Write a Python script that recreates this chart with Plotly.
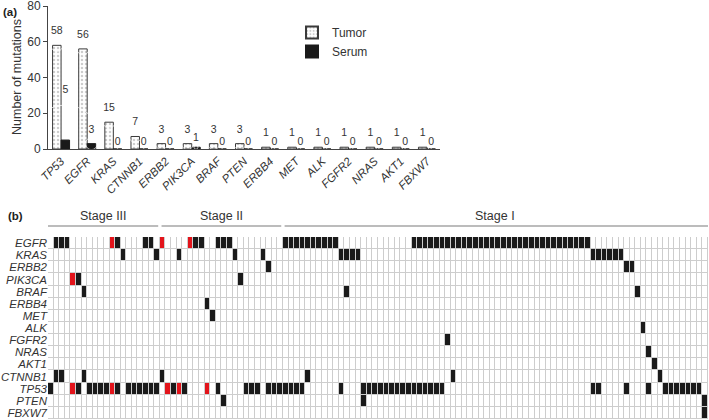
import plotly.graph_objects as go

# ---------------- Panel (a) data ----------------
bar_genes = ["TP53", "EGFR", "KRAS", "CTNNB1", "ERBB2", "PIK3CA", "BRAF", "PTEN",
             "ERBB4", "MET", "ALK", "FGFR2", "NRAS", "AKT1", "FBXW7"]
tumor_counts = [58, 56, 15, 7, 3, 3, 3, 3, 1, 1, 1, 1, 1, 1, 1]
serum_counts = [5, 3, 0, 0, 0, 1, 0, 0, 0, 0, 0, 0, 0, 0, 0]
y_ticks = [0, 20, 40, 60, 80]

# ---------------- Panel (b) data ----------------
heat_genes = ["EGFR", "KRAS", "ERBB2", "PIK3CA", "BRAF", "ERBB4", "MET", "ALK",
              "FGFR2", "NRAS", "AKT1", "CTNNB1", "TP53", "PTEN", "FBXW7"]
n_samples = 118
stage_names = ["Stage III", "Stage II", "Stage I"]
stage_sizes = [20, 22, 76]

# sample indices with tumour mutation, per gene
tumor_mut = {
    "EGFR": [1, 2, 3, 11, 12, 17, 18, 20, 25, 26, 27, 30, 31, 32,
             42, 43, 44, 45, 46, 47, 48, 49, 50, 51,
             65, 66, 67, 68, 69, 70, 71, 72, 73, 74, 75, 76, 77, 78, 79, 80,
             81, 82, 83, 84, 85, 86, 87, 88, 89, 90, 91, 92, 93, 94, 95, 96],
    "KRAS": [13, 19, 23, 33, 38, 52, 53, 54, 55, 97, 98, 99, 100, 101, 102],
    "ERBB2": [39, 103, 104],
    "PIK3CA": [4, 5, 34],
    "BRAF": [6, 53, 105],
    "ERBB4": [28],
    "MET": [29],
    "ALK": [106],
    "FGFR2": [71],
    "NRAS": [107],
    "AKT1": [108],
    "CTNNB1": [1, 2, 6, 20, 46, 72, 109],
    "TP53": [0, 4, 5, 7, 8, 9, 10, 11, 12, 14, 15, 16, 17, 18, 19, 21, 22, 23, 24,
             28, 30, 35, 36, 37, 39, 40, 41, 42, 43, 44, 45, 52,
             56, 57, 58, 59, 60, 61, 62, 63, 64, 65, 66, 67, 68, 69, 70,
             97, 98, 103, 107, 110, 111, 112, 113, 114, 115, 116],
    "PTEN": [31, 56, 117],
    "FBXW7": [117],
}
# samples where the mutation was also detected in serum (red)
serum_mut = {
    "EGFR": [11, 20, 25],
    "TP53": [4, 11, 21, 23, 28],
    "PIK3CA": [4],
}

# build matrix: 0 = none, 1 = tumour only, 2 = tumour + serum
z = []
for g in heat_genes:
    row = [0] * n_samples
    for s in tumor_mut.get(g, []):
        row[s] = 1
    for s in serum_mut.get(g, []):
        row[s] = 2
    z.append(row)

FONT = "Liberation Sans, Arial, sans-serif"
TXT = "#333333"
W, H = 709, 420

def px_x(v):
    return v / W

def px_y(v):
    return 1 - v / H

fig = go.Figure()

fig.add_trace(go.Bar(
    x=bar_genes, y=tumor_counts, name="Tumor", offsetgroup="tumor", alignmentgroup="g",
    marker=dict(color="white", line=dict(color="#3a3a3a", width=1),
                pattern=dict(shape=".", fgcolor="#9a9a9a", bgcolor="white",
                             size=4, solidity=0.3)),
    xaxis="x", yaxis="y", hoverinfo="skip"))
fig.add_trace(go.Bar(
    x=bar_genes, y=serum_counts, name="Serum", offsetgroup="serum", alignmentgroup="g",
    marker=dict(color="#1a1a1a", line=dict(color="#1a1a1a", width=1)),
    xaxis="x", yaxis="y", hoverinfo="skip"))

# value labels: text points at the bar tops, grouped like the bars
tumor_label_gap = [12] * len(bar_genes)
serum_label_gap = [70 if g == "TP53" else (12 if v > 1 else (4 if v == 1 else 1))
                   for g, v in zip(bar_genes, serum_counts)]
fig.add_trace(go.Scatter(
    x=bar_genes, y=tumor_counts, mode="markers+text", text=[str(v) for v in tumor_counts],
    textposition="top center", offsetgroup="tumor", alignmentgroup="g",
    marker=dict(size=tumor_label_gap, color="rgba(0,0,0,0)"),
    textfont=dict(size=10.5, color=TXT, family=FONT), cliponaxis=False,
    showlegend=False, hoverinfo="skip", xaxis="x", yaxis="y"))
fig.add_trace(go.Scatter(
    x=bar_genes, y=serum_counts, mode="markers+text", text=[str(v) for v in serum_counts],
    textposition="top center", offsetgroup="serum", alignmentgroup="g",
    marker=dict(size=serum_label_gap, color="rgba(0,0,0,0)"),
    textfont=dict(size=10.5, color=TXT, family=FONT), cliponaxis=False,
    showlegend=False, hoverinfo="skip", xaxis="x", yaxis="y"))

fig.add_trace(go.Heatmap(
    z=z, x=list(range(n_samples)), y=heat_genes,
    xaxis="x2", yaxis="y2", zmin=0, zmax=2,
    colorscale=[[0, "white"], [0.25, "white"], [0.25, "#1a1a1a"], [0.75, "#1a1a1a"],
                [0.75, "#e3141b"], [1, "#e3141b"]],
    showscale=False, xgap=1, ygap=1, hoverinfo="skip", showlegend=False))

annotations = []
shapes = [dict(type="rect", xref="x2 domain", yref="y2 domain", x0=0, x1=1, y0=0, y1=1,
               fillcolor="#cdcdcd", line=dict(width=0), layer="below")]
start = 0
for i, (nm, sz) in enumerate(zip(stage_names, stage_sizes)):
    a = start - 0.5 + (0 if i == 0 else 0.3)
    b = start + sz - 0.5 - (0 if i == len(stage_sizes) - 1 else 0.3)
    shapes.append(dict(type="line", xref="x2", yref="paper", x0=a, x1=b,
                       y0=px_y(226), y1=px_y(226), line=dict(color="#7a7a7a", width=1.2)))
    annotations.append(dict(x=start + (sz - 1) / 2, xref="x2", y=px_y(216), yref="paper",
                            text=nm, showarrow=False, font=dict(size=12.5, color=TXT, family=FONT),
                            xanchor="center", yanchor="middle"))
    start += sz

annotations += [
    dict(x=px_x(1), y=px_y(12), xref="paper", yref="paper", text="<b>(a)</b>",
         showarrow=False, xanchor="left", yanchor="middle", font=dict(size=11.5, color="#222", family=FONT)),
    dict(x=px_x(6), y=px_y(216), xref="paper", yref="paper", text="<b>(b)</b>",
         showarrow=False, xanchor="left", yanchor="middle", font=dict(size=11.5, color="#222", family=FONT)),
    dict(x=px_x(17), y=px_y(77), xref="paper", yref="paper", text="Number of mutations",
         textangle=-90, showarrow=False, xanchor="center", yanchor="middle",
         font=dict(size=12.5, color=TXT, family=FONT)),
]

fig.update_layout(
    width=W, height=H, margin=dict(l=0, r=0, t=0, b=0, autoexpand=False),
    paper_bgcolor="white", plot_bgcolor="white",
    font=dict(family=FONT, color=TXT),
    barmode="group", bargap=0.35, bargroupgap=0,
    scattermode="group", scattergap=0.35,
    showlegend=True,
    legend=dict(x=px_x(292), y=px_y(18), xanchor="left", yanchor="top",
                font=dict(size=12, color=TXT, family=FONT), bgcolor="rgba(0,0,0,0)",
                itemsizing="constant"),
    xaxis=dict(domain=[px_x(48), px_x(440)], anchor="y", tickangle=-45, automargin=False,
               tickfont=dict(size=11.5, style="italic", color=TXT, family=FONT),
               showline=True, linecolor="#444", linewidth=1, ticks="", showgrid=False,
               zeroline=False, fixedrange=True, ticklabeloverflow="allow"),
    yaxis=dict(domain=[px_y(149), px_y(6)], anchor="x", range=[0, 80], tickvals=y_ticks,
               ticks="outside", ticklen=4, tickcolor="#444", automargin=False,
               tickfont=dict(size=12, color=TXT, family=FONT), ticklabeloverflow="allow",
               showline=True, linecolor="#444", linewidth=1, showgrid=False, zeroline=False),
    xaxis2=dict(domain=[px_x(48), px_x(708)], anchor="y2", range=[-0.5, n_samples - 0.5],
                visible=False, showgrid=False, zeroline=False, automargin=False),
    yaxis2=dict(domain=[px_y(419), px_y(237)], anchor="x2", autorange="reversed",
                tickmode="array", tickvals=heat_genes, ticktext=heat_genes, automargin=False,
                tickfont=dict(size=11.5, style="italic", color=TXT, family=FONT),
                ticklabeloverflow="allow",
                ticks="", showgrid=False, zeroline=False, showline=False),
    shapes=shapes, annotations=annotations,
)

fig.write_html("out.html", config={"displayModeBar": False},
               post_script="document.body.style.margin='0px';document.body.style.overflow='hidden';")
